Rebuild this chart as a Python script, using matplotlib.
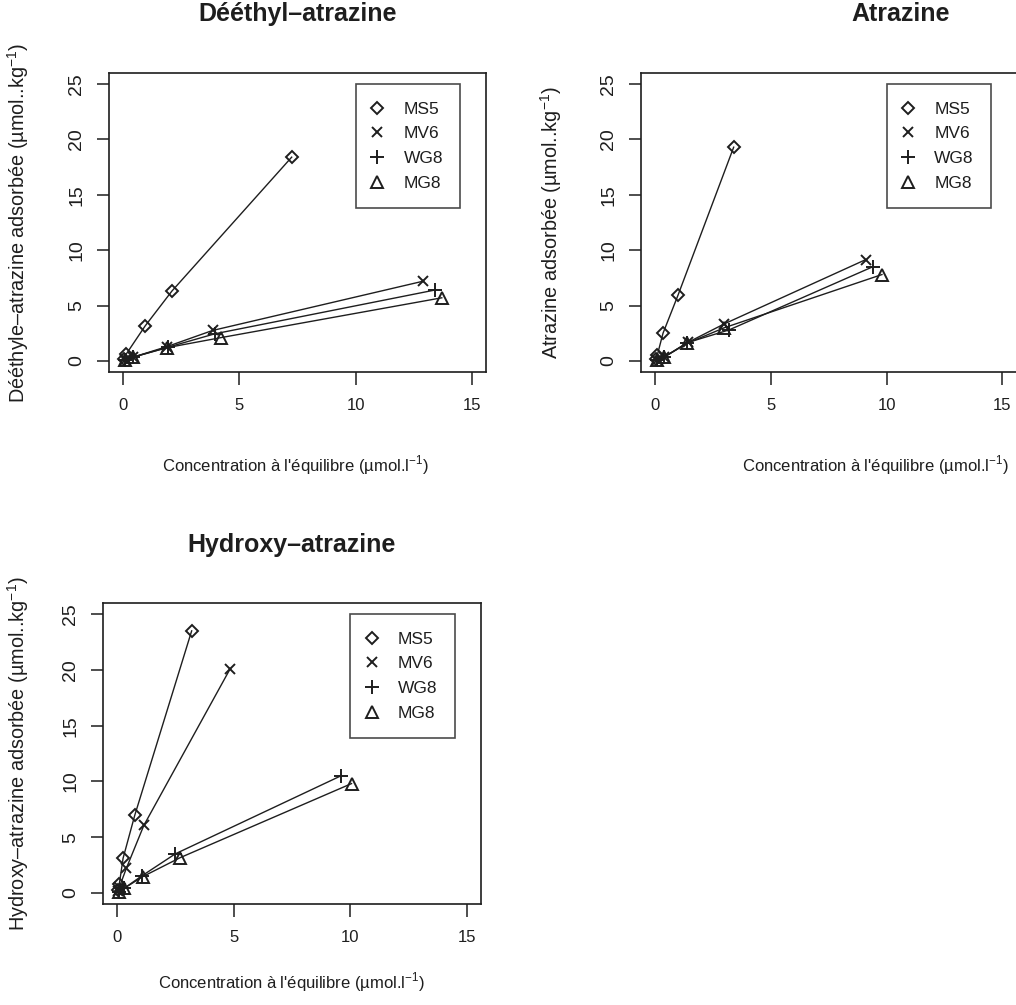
import matplotlib
matplotlib.use("Agg")
import matplotlib.pyplot as plt
from matplotlib.lines import Line2D

plt.rcParams['font.family'] = ['Liberation Sans', 'DejaVu Sans']
plt.rcParams['mathtext.fontset'] = 'custom'
plt.rcParams['mathtext.rm'] = 'Liberation Sans'

INK = '#1e1e1e'

# Soil samples and their plotting symbols
samples = ["MS5", "MV6", "WG8", "MG8"]
symbols = ["D", "x", "+", "^"]
symbol_sizes = [6.2, 7.0, 9.5, 8.0]

# Dééthyl-atrazine: equilibrium concentration (µmol/l) and adsorbed amount (µmol/kg)
dea_ce = {
    "MS5": [0.05, 0.15, 0.95, 2.1, 7.25],
    "MV6": [0.1, 0.45, 1.9, 3.85, 12.9],
    "WG8": [0.1, 0.45, 1.95, 3.95, 13.4],
    "MG8": [0.1, 0.45, 1.9, 4.2, 13.7],
}
dea_qe = {
    "MS5": [0.2, 0.65, 3.15, 6.3, 18.4],
    "MV6": [0.1, 0.35, 1.3, 2.75, 7.2],
    "WG8": [0.1, 0.35, 1.25, 2.45, 6.4],
    "MG8": [0.1, 0.35, 1.2, 2.1, 5.7],
}

# Atrazine
atz_ce = {
    "MS5": [0.05, 0.1, 0.35, 1.0, 3.4],
    "MV6": [0.1, 0.4, 1.45, 3.0, 9.1],
    "WG8": [0.1, 0.4, 1.4, 3.2, 9.4],
    "MG8": [0.1, 0.4, 1.4, 3.0, 9.8],
}
atz_qe = {
    "MS5": [0.2, 0.5, 2.5, 5.95, 19.3],
    "MV6": [0.1, 0.35, 1.7, 3.35, 9.15],
    "WG8": [0.1, 0.35, 1.65, 2.8, 8.5],
    "MG8": [0.1, 0.35, 1.6, 3.0, 7.8],
}

# Hydroxy-atrazine
hya_ce = {
    "MS5": [0.05, 0.1, 0.26, 0.76, 3.2],
    "MV6": [0.05, 0.1, 0.4, 1.15, 4.85],
    "WG8": [0.1, 0.3, 1.05, 2.5, 9.6],
    "MG8": [0.1, 0.3, 1.1, 2.7, 10.05],
}
hya_qe = {
    "MS5": [0.3, 0.8, 3.1, 6.95, 23.5],
    "MV6": [0.2, 0.5, 2.2, 6.05, 20.1],
    "WG8": [0.1, 0.4, 1.5, 3.5, 10.5],
    "MG8": [0.1, 0.4, 1.45, 3.15, 9.8],
}

x_ticks = [0, 5, 10, 15]
y_ticks = [0, 5, 10, 15, 20, 25]
x_label = "Concentration à l'équilibre (µmol.l$^{-1}$)"

# box = (left, top, right, bottom) in pixels; title_y / xlab_y / ylab_x in pixels
panels = [
    dict(title="Dééthyl–atrazine",
         ylabel="Dééthyle–atrazine adsorbée (µmol..kg$^{-1}$)",
         ce=dea_ce, qe=dea_qe, box=(109, 73, 486, 372), xmax=15.6,
         title_y=22, xlab_y=465, xlab_x=296, ylab_x=18),
    dict(title="Atrazine",
         ylabel="Atrazine adsorbée (µmol..kg$^{-1}$)",
         ce=atz_ce, qe=atz_qe, box=(641, 73, 1160, 372), xmax=21.8,
         title_y=22, xlab_y=465, xlab_x=876, ylab_x=551),
    dict(title="Hydroxy–atrazine",
         ylabel="Hydroxy–atrazine adsorbée (µmol..kg$^{-1}$)",
         ce=hya_ce, qe=hya_qe, box=(103, 603, 481, 904), xmax=15.6,
         title_y=553, xlab_y=982, xlab_x=292, ylab_x=18),
]

W, H = 1016, 1005
fig = plt.figure(figsize=(W / 100, H / 100), dpi=100)
fig.patch.set_facecolor('white')

FS_X = 12.0    # horizontal axis text
FS_Y = 14.0    # rotated axis text
FS_YLAB = 14.3

for p in panels:
    l, t, r, b = p["box"]
    wpx, hpx = r - l, b - t
    ax = fig.add_axes([l / W, 1 - b / H, wpx / W, hpx / H])
    for name, m, ms in zip(samples, symbols, symbol_sizes):
        ax.plot(p["ce"][name], p["qe"][name], color=INK, lw=1.0,
                marker=m, ms=ms, mfc='none', mec=INK, mew=1.4, clip_on=False)
    ax.set_xlim(-0.6, p["xmax"])
    ax.set_ylim(-1, 26)
    ax.set_xticks(x_ticks)
    ax.set_yticks(y_ticks)
    ax.tick_params(direction='out', length=9, width=1.1, color=INK,
                   labelcolor=INK)
    ax.tick_params(axis='x', labelsize=FS_X, pad=10)
    ax.tick_params(axis='y', labelsize=FS_Y, pad=8)
    for lab in ax.get_yticklabels():
        lab.set_rotation(90)
        lab.set_va('center')
    for s in ax.spines.values():
        s.set_linewidth(1.2)
        s.set_color(INK)

    ax.set_title(p["title"], fontsize=18, fontweight='bold', color=INK,
                 y=(b - p["title_y"]) / hpx, va='center')
    ax.set_xlabel(x_label, fontsize=FS_X, color=INK)
    ax.xaxis.label.set_va('center')
    ax.xaxis.set_label_coords((p["xlab_x"] - l) / wpx, (b - p["xlab_y"]) / hpx)
    ax.set_ylabel(p["ylabel"], fontsize=FS_YLAB, color=INK)
    ax.yaxis.label.set_va('center')
    ax.yaxis.set_label_coords((p["ylab_x"] - l) / wpx, 0.5)

    handles = [Line2D([], [], ls='none', marker=m, ms=ms, mfc='none',
                      mec=INK, mew=1.4) for m, ms in zip(symbols, symbol_sizes)]
    leg = ax.legend(handles, samples, loc='upper left',
                    bbox_to_anchor=(10, 25), bbox_transform=ax.transData,
                    fontsize=12.5, frameon=True, fancybox=False,
                    borderaxespad=0, borderpad=1.0, handletextpad=1.25,
                    labelspacing=0.55, handlelength=0.5)
    leg.get_frame().set_edgecolor(INK)
    leg.get_frame().set_linewidth(1.2)
    for txt in leg.get_texts():
        txt.set_color(INK)

fig.savefig("out.png", dpi=100, facecolor='white')
